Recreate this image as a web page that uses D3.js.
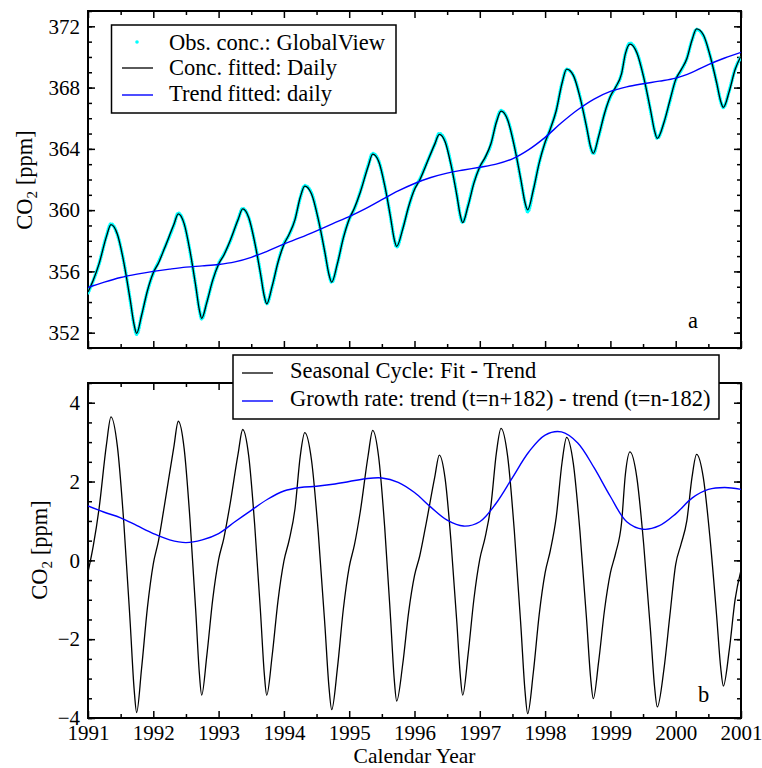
<!DOCTYPE html>
<html lang="en">
<head>
<meta charset="UTF-8">
<title>CO2 GlobalView fit</title>
<script src="https://cdnjs.cloudflare.com/ajax/libs/d3/7.8.5/d3.min.js"></script>
<style>
  body { margin: 0; background: #fff; }
  svg text { font-family: "Liberation Serif", "Times New Roman", serif; fill: #000; }
  .tick text { font-size: 21px; }
  .tick line { stroke: #000; stroke-width: 1.5px; }
  .frame { fill: none; stroke: #000; stroke-width: 2px; }
  .legend rect { fill: #fff; stroke: #000; stroke-width: 1.5px; }
  .lbl { font-size: 22.5px; }
</style>
</head>
<body>
<svg id="chart" width="762" height="768"></svg>
<script>

// knot times (decimal year) for the daily fit / seasonal cycle
var knotYear = [1991.000, 1991.080, 1991.170, 1991.282, 1991.352, 1991.450, 1991.549, 1991.647, 1991.706, 1991.745,
  1991.820, 1991.910, 1992.000, 1992.080, 1992.170, 1992.313, 1992.383, 1992.473, 1992.562, 1992.652,
  1992.705, 1992.741, 1992.820, 1992.910, 1993.000, 1993.080, 1993.170, 1993.299, 1993.369, 1993.461,
  1993.553, 1993.645, 1993.700, 1993.737, 1993.820, 1993.910, 1994.000, 1994.080, 1994.170, 1994.250,
  1994.320, 1994.423, 1994.526, 1994.629, 1994.691, 1994.732, 1994.820, 1994.910, 1995.000, 1995.080,
  1995.170, 1995.290, 1995.360, 1995.452, 1995.544, 1995.635, 1995.690, 1995.727, 1995.820, 1995.910,
  1996.000, 1996.080, 1996.170, 1996.310, 1996.380, 1996.470, 1996.559, 1996.649, 1996.702, 1996.738,
  1996.820, 1996.910, 1997.000, 1997.080, 1997.170, 1997.255, 1997.325, 1997.427, 1997.529, 1997.631,
  1997.692, 1997.733, 1997.820, 1997.910, 1998.000, 1998.080, 1998.170, 1998.260, 1998.330, 1998.432,
  1998.534, 1998.636, 1998.697, 1998.738, 1998.820, 1998.910, 1999.000, 1999.080, 1999.170, 1999.230,
  1999.300, 1999.405, 1999.509, 1999.614, 1999.676, 1999.718, 1999.820, 1999.910, 2000.000, 2000.080,
  2000.170, 2000.250, 2000.320, 2000.423, 2000.525, 2000.628, 2000.689, 2000.730, 2000.820, 2000.910,
  2001.000];

// panel a: fitted daily concentration (ppm)
var concFit = [354.65, 355.42, 356.51, 358.27, 359.06, 358.43, 356.58, 354.12, 352.52, 351.96,
  353.12, 354.74, 355.91, 356.55, 357.49, 359.04, 359.75, 359.10, 357.33, 354.99,
  353.49, 352.94, 353.98, 355.43, 356.47, 357.06, 357.94, 359.39, 360.08, 359.52,
  357.90, 355.76, 354.37, 353.89, 355.04, 356.60, 357.76, 358.42, 359.38, 360.84,
  361.57, 361.05, 359.41, 357.21, 355.78, 355.30, 356.52, 358.17, 359.41, 360.14,
  361.17, 362.85, 363.66, 363.18, 361.61, 359.48, 358.09, 357.63, 358.76, 360.24,
  361.35, 361.97, 362.87, 364.31, 364.95, 364.45, 362.95, 360.95, 359.65, 359.19,
  360.27, 361.76, 362.83, 363.43, 364.33, 365.75, 366.46, 365.88, 364.16, 361.94,
  360.50, 360.02, 361.33, 363.09, 364.43, 365.30, 366.49, 368.30, 369.20, 368.80,
  367.38, 365.41, 364.12, 363.71, 364.82, 366.31, 367.43, 368.03, 368.89, 370.22,
  370.84, 370.27, 368.68, 366.55, 365.17, 364.68, 365.72, 367.14, 368.52, 369.14,
  369.88, 371.11, 371.83, 371.45, 370.11, 368.29, 367.11, 366.71, 367.75, 369.18,
  370.05];

// panel a: GlobalView observations (ppm), same dates
var concObs = [354.6, 355.4, 356.5, 358.3, 359.1, 358.4, 356.6, 354.1, 352.5, 351.9,
  353.1, 354.7, 355.9, 356.6, 357.5, 359.0, 359.8, 359.1, 357.3, 355.0,
  353.5, 352.9, 354.0, 355.4, 356.5, 357.1, 357.9, 359.4, 360.1, 359.5,
  357.9, 355.8, 354.4, 353.9, 355.0, 356.6, 357.8, 358.4, 359.4, 360.8,
  361.6, 361.1, 359.4, 357.2, 355.8, 355.3, 356.5, 358.2, 359.4, 360.1,
  361.2, 362.9, 363.7, 363.2, 361.6, 359.5, 358.1, 357.6, 358.8, 360.2,
  361.4, 362.0, 362.9, 364.3, 365.0, 364.5, 363.0, 361.0, 359.6, 359.2,
  360.3, 361.8, 362.8, 363.4, 364.3, 365.8, 366.5, 365.9, 364.2, 361.9,
  360.5, 359.9, 361.3, 363.1, 364.4, 365.3, 366.5, 368.3, 369.2, 368.8,
  367.4, 365.4, 364.1, 363.7, 364.8, 366.3, 367.4, 368.0, 368.9, 370.2,
  370.9, 370.3, 368.7, 366.5, 365.2, 364.7, 365.7, 367.1, 368.5, 369.1,
  369.9, 371.1, 371.8, 371.4, 370.1, 368.3, 367.1, 366.7, 367.8, 369.2,
  370.0];

// panel b: seasonal cycle, fit - trend (ppm)
var seasonal = [-0.30, 0.36, 1.32, 2.93, 3.64, 2.89, 0.94, -1.61, -3.26, -3.86,
  -2.75, -1.20, -0.09, 0.50, 1.39, 2.86, 3.53, 2.83, 1.03, -1.34,
  -2.86, -3.42, -2.41, -0.99, 0.02, 0.56, 1.37, 2.71, 3.32, 2.65,
  0.89, -1.40, -2.88, -3.42, -2.42, -1.02, -0.02, 0.51, 1.31, 2.64,
  3.24, 2.54, 0.71, -1.68, -3.23, -3.79, -2.73, -1.24, -0.17, 0.39,
  1.24, 2.66, 3.30, 2.61, 0.83, -1.51, -3.02, -3.57, -2.63, -1.32,
  -0.39, 0.11, 0.86, 2.11, 2.67, 2.06, 0.48, -1.59, -2.93, -3.42,
  -2.40, -0.98, 0.03, 0.57, 1.39, 2.74, 3.35, 2.63, 0.74, -1.72,
  -3.31, -3.89, -2.84, -1.37, -0.32, 0.25, 1.09, 2.49, 3.12, 2.46,
  0.73, -1.52, -2.98, -3.51, -2.57, -1.26, -0.32, 0.18, 0.94, 2.19,
  2.75, 2.10, 0.42, -1.78, -3.20, -3.72, -2.76, -1.41, -0.10, 0.40,
  1.00, 2.11, 2.69, 2.10, 0.57, -1.43, -2.72, -3.19, -2.28, -0.99,
  -0.25];

// quarterly trend and growth rate
var quarterYear = d3.range(1991, 2001.001, 0.25);
var trend = [354.95, 355.30, 355.60, 355.82, 356.00, 356.15, 356.28, 356.36, 356.45, 356.62,
  356.92, 357.33, 357.78, 358.20, 358.65, 359.12, 359.58, 360.10, 360.68, 361.25,
  361.74, 362.13, 362.42, 362.62, 362.80, 363.00, 363.35, 363.95, 364.75, 365.70,
  366.55, 367.25, 367.75, 368.05, 368.25, 368.42, 368.62, 369.00, 369.50, 369.93,
  370.30];
var growth = [1.38, 1.22, 1.08, 0.88, 0.68, 0.52, 0.45, 0.52, 0.68, 0.98,
  1.27, 1.55, 1.76, 1.85, 1.88, 1.93, 2.00, 2.07, 2.09, 1.98,
  1.72, 1.35, 1.02, 0.87, 0.98, 1.45, 2.10, 2.75, 3.18, 3.26,
  2.98, 2.35, 1.62, 0.98, 0.79, 0.88, 1.18, 1.58, 1.80, 1.85,
  1.80];

var yearTicks = d3.range(1991, 2002);
var halfYearTicks = d3.range(1991.5, 2001, 1);
var concTicks = [352, 356, 360, 364, 368, 372];
var concMinor = d3.range(351, 374);
var cycleTicks = [-4, -2, 0, 2, 4];
var cycleMinor = d3.range(-4, 4.51, 0.5);

var svg = d3.select("#chart");

var x = d3.scaleLinear().domain([1991, 2001]).range([88, 741]);
var yA = d3.scaleLinear().domain([351, 373]).range([348, 11]);
var yB = d3.scaleLinear().domain([-4, 4.5]).range([718, 383]);

function clean(g) { g.select(".domain").remove(); }

function drawFrame(y, yMajor, yMinor, withXLabels, id) {
  var y0 = y.range()[0], y1 = y.range()[1];
  var g = svg.append("g");

  g.append("clipPath").attr("id", id)
    .append("rect").attr("x", 88).attr("y", y1).attr("width", 653).attr("height", y0 - y1);

  // minor ticks
  g.append("g").attr("transform", "translate(0," + y0 + ")")
    .call(d3.axisBottom(x).tickValues(halfYearTicks).tickSize(-4).tickFormat("")).call(clean);
  g.append("g").attr("transform", "translate(0," + y1 + ")")
    .call(d3.axisTop(x).tickValues(halfYearTicks).tickSize(-4).tickFormat("")).call(clean);
  g.append("g").attr("transform", "translate(88,0)")
    .call(d3.axisLeft(y).tickValues(yMinor).tickSize(-4).tickFormat("")).call(clean);
  g.append("g").attr("transform", "translate(741,0)")
    .call(d3.axisRight(y).tickValues(yMinor).tickSize(-4).tickFormat("")).call(clean);

  // major ticks
  var bottom = d3.axisBottom(x).tickValues(yearTicks).tickSize(-7).tickPadding(7);
  if (!withXLabels) bottom.tickFormat("");
  else bottom.tickFormat(d3.format("d"));
  g.append("g").attr("transform", "translate(0," + y0 + ")").call(bottom).call(clean);
  g.append("g").attr("transform", "translate(0," + y1 + ")")
    .call(d3.axisTop(x).tickValues(yearTicks).tickSize(-7).tickFormat("")).call(clean);
  g.append("g").attr("transform", "translate(88,0)")
    .call(d3.axisLeft(y).tickValues(yMajor).tickSize(-7).tickPadding(8).tickFormat(d3.format("d"))).call(clean);
  g.append("g").attr("transform", "translate(741,0)")
    .call(d3.axisRight(y).tickValues(yMajor).tickSize(-7).tickFormat("")).call(clean);

  g.append("rect").attr("class", "frame")
    .attr("x", 88).attr("y", y1).attr("width", 653).attr("height", y0 - y1);
  return g;
}

drawFrame(yA, concTicks, concMinor, false, "clipA");
drawFrame(yB, cycleTicks, cycleMinor, true, "clipB");

function lineOf(xs, ys, y, curve) {
  return d3.line()
    .x(function(d) { return x(d[0]); })
    .y(function(d) { return y(d[1]); })
    .curve(curve)(d3.zip(xs, ys));
}

// panel a
var pa = svg.append("g").attr("clip-path", "url(#clipA)");
pa.append("path")
  .attr("d", lineOf(knotYear, concObs, yA, d3.curveMonotoneX))
  .attr("fill", "none").attr("stroke", "#00ffff").attr("stroke-width", 3.6)
  .attr("stroke-linecap", "round").attr("stroke-dasharray", "0.1 2.3");
pa.append("path")
  .attr("d", lineOf(knotYear, concFit, yA, d3.curveMonotoneX))
  .attr("fill", "none").attr("stroke", "#000").attr("stroke-width", 1.3);
pa.append("path")
  .attr("d", lineOf(quarterYear, trend, yA, d3.curveCatmullRom.alpha(0.5)))
  .attr("fill", "none").attr("stroke", "#0000ff").attr("stroke-width", 1.4);

// panel b
var pb = svg.append("g").attr("clip-path", "url(#clipB)");
pb.append("path")
  .attr("d", lineOf(knotYear, seasonal, yB, d3.curveMonotoneX))
  .attr("fill", "none").attr("stroke", "#000").attr("stroke-width", 1.3);
pb.append("path")
  .attr("d", lineOf(quarterYear, growth, yB, d3.curveCatmullRom.alpha(0.5)))
  .attr("fill", "none").attr("stroke", "#0000ff").attr("stroke-width", 1.4);

// axis titles
function co2Label(cx, cy) {
  var t = svg.append("text").attr("class", "lbl")
    .attr("transform", "translate(" + cx + "," + cy + ") rotate(-90)")
    .attr("text-anchor", "middle");
  t.append("tspan").text("CO");
  t.append("tspan").attr("dy", 5).style("font-size", "15px").text("2");
  t.append("tspan").attr("dy", -5).text(" [ppm]");
}
co2Label(32, 180);
co2Label(47, 550);

svg.append("text").attr("class", "lbl")
  .attr("x", 414.5).attr("y", 763).attr("text-anchor", "middle")
  .style("font-size", "21.5px")
  .text("Calendar Year");

svg.append("text").attr("class", "lbl").attr("x", 688).attr("y", 328).text("a");
svg.append("text").attr("class", "lbl").attr("x", 698).attr("y", 702).text("b");

// legend a
var legA = svg.append("g").attr("class", "legend");
legA.append("rect").attr("x", 111.5).attr("y", 25).attr("width", 284.5).attr("height", 88);
legA.append("circle").attr("cx", 137).attr("cy", 42).attr("r", 1.8).attr("fill", "#00ffff");
legA.append("line").attr("x1", 122).attr("x2", 153).attr("y1", 68).attr("y2", 68)
  .attr("stroke", "#000").attr("stroke-width", 1.3);
legA.append("line").attr("x1", 122).attr("x2", 153).attr("y1", 95).attr("y2", 95)
  .attr("stroke", "#0000ff").attr("stroke-width", 1.4);
var legAText = ["Obs. conc.: GlobalView", "Conc. fitted: Daily", "Trend fitted: daily"];
legA.selectAll("text.item").data(legAText).enter().append("text")
  .attr("class", "item lbl")
  .attr("x", 169).attr("y", function(d, i) { return 49.5 + i * 25.5; })
  .text(function(d) { return d; });

// legend b
var legB = svg.append("g").attr("class", "legend");
legB.append("rect").attr("x", 233).attr("y", 355).attr("width", 486).attr("height", 64);
legB.append("line").attr("x1", 242).attr("x2", 273).attr("y1", 373).attr("y2", 373)
  .attr("stroke", "#000").attr("stroke-width", 1.3);
legB.append("line").attr("x1", 242).attr("x2", 273).attr("y1", 401).attr("y2", 401)
  .attr("stroke", "#0000ff").attr("stroke-width", 1.4);
var legBText = ["Seasonal Cycle: Fit - Trend", "Growth rate: trend (t=n+182) - trend (t=n-182)"];
legB.selectAll("text.item").data(legBText).enter().append("text")
  .attr("class", "item lbl")
  .attr("x", 290).attr("y", function(d, i) { return 378 + i * 28; })
  .text(function(d) { return d; });

</script>
</body>
</html>
